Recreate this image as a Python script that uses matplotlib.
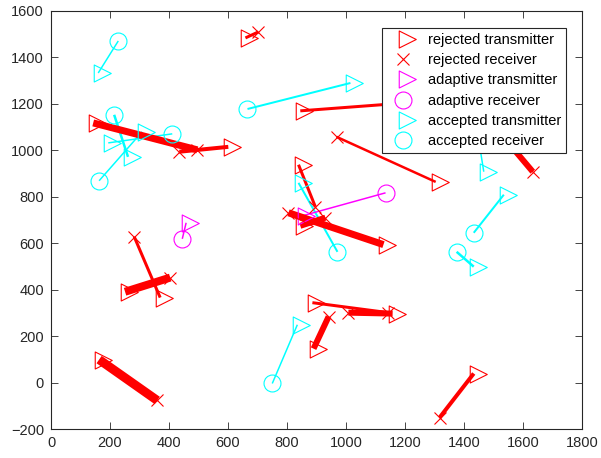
import numpy as np
import matplotlib
matplotlib.use("Agg")
import matplotlib.pyplot as plt
from matplotlib.path import Path
from matplotlib.lines import Line2D

plt.rcParams['font.family'] = ['Liberation Sans', 'DejaVu Sans']
plt.rcParams['font.size'] = 10

# rejected links (transmitter -> receiver), line width in px
rej_tx_x = [659, 143, 601, 845, 1304, 1542, 839, 1127, 845, 370, 251, 163, 886, 1158, 890, 1433]
rej_tx_y = [1484, 1118, 1015, 1170, 864, 1045, 938, 594, 675, 366, 391, 99, 344, 297, 146, 39]
rej_rx_x = [703, 496, 435, 1253, 968, 1633, 896, 805, 930, 282, 404, 360, 1144, 1008, 941, 1317]
rej_rx_y = [1510, 1002, 994, 1209, 1058, 908, 757, 731, 710, 628, 452, -77, 301, 301, 284, -151]
rej_w = [3, 7, 4, 3, 2.5, 6, 3, 7, 6, 3, 8, 9, 3, 6, 6, 4]

# adaptive links
ada_tx_x = [852, 458]
ada_tx_y = [718, 688]
ada_rx_x = [1134, 445]
ada_rx_y = [817, 619]
ada_w = [1.5, 1.5]

# accepted links
acc_tx_x = [160, 1015, 261, 194, 309, 839, 835, 1467, 1535, 1433]
acc_tx_y = [1333, 1290, 972, 1032, 1080, 860, 249, 908, 809, 499]
acc_rx_x = [228, 666, 214, 411, 163, 971, 750, 1447, 1433, 1375]
acc_rx_y = [1471, 1178, 1153, 1071, 869, 563, -4, 1067, 645, 563]
acc_w = [1.5, 2, 2.5, 1.5, 1.5, 2, 1.5, 1.5, 2, 2.5]

PX = 0.72  # px -> pt at dpi 100

# right-pointing triangle, anchor about a quarter in from its base (like matlab)
tri = Path([(-0.5, 1.0), (1.5, 0.0), (-0.5, -1.0), (-0.5, 1.0)],
           [Path.MOVETO, Path.LINETO, Path.LINETO, Path.CLOSEPOLY])
TRI_MS = 18.4
CIRC_MS = 12.2
X_MS = 9

fig = plt.figure(figsize=(6.01, 4.58), dpi=100)
ax = fig.add_axes([0.0849, 0.0633, 0.8835, 0.9127])

def draw_links(txx, txy, rxx, rxy, ws, color, rx_marker, rx_ms):
    for x0, y0, x1, y1, w in zip(txx, txy, rxx, rxy, ws):
        ax.plot([x0, x1], [y0, y1], color=color, lw=w * PX, solid_capstyle='butt', zorder=2)
    ax.plot(txx, txy, linestyle='none', marker=tri, ms=TRI_MS, mfc='none',
            mec=color, mew=0.8, zorder=3)
    ax.plot(rxx, rxy, linestyle='none', marker=rx_marker, ms=rx_ms, mfc='none',
            mec=color, mew=0.8, zorder=3)

draw_links(acc_tx_x, acc_tx_y, acc_rx_x, acc_rx_y, acc_w, '#00FFFF', 'o', CIRC_MS)
draw_links(ada_tx_x, ada_tx_y, ada_rx_x, ada_rx_y, ada_w, '#FF00FF', 'o', CIRC_MS)
draw_links(rej_tx_x, rej_tx_y, rej_rx_x, rej_rx_y, rej_w, '#FF0000', 'x', X_MS)

ax.set_xlim(0, 1800)
ax.set_ylim(-200, 1600)
ax.set_xticks(np.arange(0, 1801, 200))
ax.set_yticks(np.arange(-200, 1601, 200))

axis_col = '#262626'
for s in ax.spines.values():
    s.set_color(axis_col)
    s.set_linewidth(0.8)
ax.tick_params(direction='in', top=True, right=True, length=5, width=0.6,
               colors=axis_col, labelsize=10.5, pad=5)

handles = [
    Line2D([], [], ls='none', marker=tri, ms=TRI_MS, mfc='none', mec='#FF0000', mew=0.8),
    Line2D([], [], ls='none', marker='x', ms=X_MS, mfc='none', mec='#FF0000', mew=0.8),
    Line2D([], [], ls='none', marker=tri, ms=TRI_MS, mfc='none', mec='#FF00FF', mew=0.8),
    Line2D([], [], ls='none', marker='o', ms=CIRC_MS, mfc='none', mec='#FF00FF', mew=0.8),
    Line2D([], [], ls='none', marker=tri, ms=TRI_MS, mfc='none', mec='#00FFFF', mew=0.8),
    Line2D([], [], ls='none', marker='o', ms=CIRC_MS, mfc='none', mec='#00FFFF', mew=0.8),
]
labels = ['rejected transmitter', 'rejected receiver', 'adaptive transmitter',
          'adaptive receiver', 'accepted transmitter', 'accepted receiver']
leg = ax.legend(handles, labels, loc='upper right', bbox_to_anchor=(0.970, 0.959),
                borderaxespad=0, fancybox=False, framealpha=1, edgecolor=axis_col,
                handlelength=2.2, handletextpad=0.6, labelspacing=0.42, borderpad=0.35,
                fontsize=10.5)
leg.get_frame().set_linewidth(0.8)
leg.set_zorder(5)

fig.savefig('out.png', dpi=100)
